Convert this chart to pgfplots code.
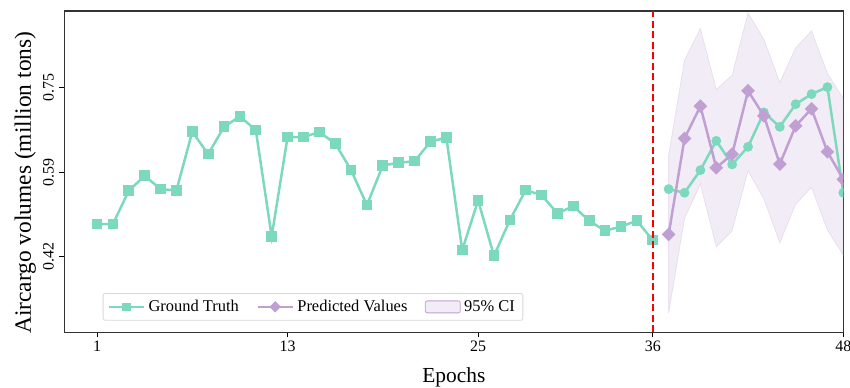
\documentclass[border=0pt]{standalone}
\usepackage{pgfplots}
\pgfplotsset{compat=1.18}
\usepackage{fontspec}
\setmainfont{Liberation Serif}
\definecolor{gt}{RGB}{125,217,190}
\definecolor{pv}{RGB}{192,160,210}
\pgfplotsset{
 linelegend/.style={legend image code/.code={\draw[mark repeat=2,mark phase=2,##1] plot coordinates {(0bp,0bp) (17.5bp,0bp) (35bp,0bp)};}},
 boxlegend/.style={legend image code/.code={\fill[pv, fill opacity=0.2] (0bp,-6bp) rectangle (35bp,6bp);}}
}
\begin{document}
\begin{tikzpicture}[x=1bp,y=1bp]
\begin{axis}[name=ax, at={(0,0)}, anchor=south west,
 scale only axis, width=779bp, height=321.3bp,
 xmin=-1.06, xmax=48, ymin=0.2726, ymax=0.899,
 xtick={1,13,25,36,48}, xticklabels={1,13,25,36,48},
 ytick={0.42,0.585,0.75}, yticklabels={0.42,0.59,0.75},
 /pgf/number format/assume math mode=true,
 tick align=outside, major tick length=5bp,
 tick style={black, line width=1bp},
 axis line style={line width=1.2bp, draw=black!80},
 xtick pos=bottom, ytick pos=left,
 ticklabel style={font=\fontsize{16}{19}\selectfont},
 yticklabel style={rotate=90, anchor=south, yshift=2bp},
 xlabel={Epochs}, ylabel={Aircargo volumes (million tons)},
 xlabel style={font=\fontsize{21.5}{24}\selectfont, at={(axis description cs:0.5,0)}, anchor=base, yshift=-50.5bp},
 ylabel style={font=\fontsize{23.5}{26}\selectfont, at={(axis description cs:0,0.5)}, anchor=center, yshift=39bp, xshift=-11bp},
 clip marker paths=true,
 legend style={at={(axis description cs:0.0493,0.0361)}, anchor=south west,
   draw=black!15, rounded corners=2bp, line width=0.8bp,
   font=\fontsize{16.5}{19}\selectfont, inner xsep=4.5bp, inner ysep=4bp,
   nodes={inner xsep=3.5bp, inner ysep=3bp},
   /tikz/every even column/.append style={column sep=14bp}},
 legend columns=3,
]
% CI band
\addplot[forget plot, fill=pv, fill opacity=0.2, draw=pv, draw opacity=0.25, line width=0.8bp] coordinates {
(37,0.618) (38,0.8032) (39,0.865) (40,0.7461) (41,0.774) (42,0.8954) (43,0.8436) (44,0.7597) (45,0.8272) (46,0.8603) (47,0.7773) (48,0.7286)
(48,0.4231) (47,0.4718) (46,0.5551) (45,0.5225) (44,0.4471) (43,0.5323) (42,0.5874) (41,0.4705) (40,0.4393) (39,0.5615) (38,0.4946) (37,0.3095)
} -- cycle;
% ground truth history
\addplot[forget plot, gt, line width=2.5bp, mark=square*, mark size=4.1bp, mark options={solid}] coordinates {
(1,0.4835) (2,0.4835) (3,0.5485) (4,0.5777) (5,0.5518) (6,0.5492) (7,0.6635) (8,0.6200) (9,0.6732) (10,0.6935)
(11,0.6668) (12,0.4596) (13,0.6531) (14,0.6531) (15,0.6629) (16,0.6408) (17,0.5888) (18,0.5206) (19,0.5980) (20,0.6030)
(21,0.6063) (22,0.6440) (23,0.6525) (24,0.4328) (25,0.5297) (26,0.4217) (27,0.4913) (28,0.5498) (29,0.5400) (30,0.5044)
(31,0.5186) (32,0.4900) (33,0.4705) (34,0.4790) (35,0.4900) (36,0.4523)
};
% ground truth future
\addplot[forget plot, gt, line width=2.5bp, mark=*, mark size=3.6bp] coordinates {
(37,0.5518) (38,0.5446) (39,0.5888) (40,0.6459) (41,0.5999) (42,0.6342) (43,0.7013) (44,0.6732) (45,0.7174) (46,0.7370) (47,0.7506) (48,0.5446)
};
% predicted
\addplot[forget plot, pv, line width=2.5bp, mark=square*, mark size=3.6bp, mark options={rotate=45}] coordinates {
(37,0.4635) (38,0.6506) (39,0.7135) (40,0.5933) (41,0.6200) (42,0.7434) (43,0.6946) (44,0.6005) (45,0.6751) (46,0.7083) (47,0.6245) (48,0.5707)
};
% split line
\addplot[forget plot, red, line width=2bp, dash pattern=on 7bp off 3.5bp] coordinates {(36,0.2726) (36,0.899)};
% legend
\addlegendimage{gt, line width=2.5bp, mark=square*, mark size=3bp, linelegend}
\addlegendentry{Ground Truth}
\addlegendimage{pv, line width=2.5bp, mark=square*, mark size=2.8bp, mark options={rotate=45}, linelegend}
\addlegendentry{Predicted Values}
\addlegendimage{boxlegend}
\addlegendentry{95\% CI}
\end{axis}
\pgfresetboundingbox
\path ([xshift=-64.3bp,yshift=-55.7bp]ax.south west) rectangle ([xshift=6.7bp,yshift=11bp]ax.north east);
\end{tikzpicture}
\end{document}
